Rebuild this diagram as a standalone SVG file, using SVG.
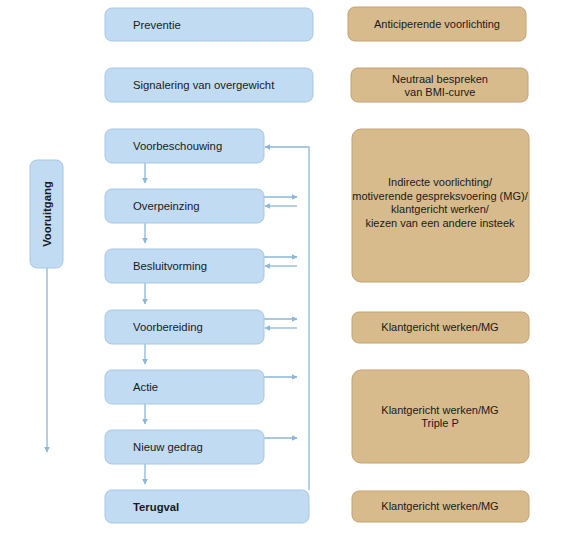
<svg xmlns="http://www.w3.org/2000/svg" width="570" height="543" viewBox="0 0 570 543">
<defs>
<style>
.b{fill:#c1dcf2;stroke:#a7c7e3;stroke-width:1}
.t{fill:#d8bb8d;stroke:#c4a272;stroke-width:1}
.lb{font-family:"Liberation Sans",Arial,sans-serif;font-size:11.3px;fill:#1a1a1a}
.lt{font-family:"Liberation Sans",Arial,sans-serif;font-size:11px;fill:#1a1a1a;text-anchor:middle}
.c{fill:none;stroke:#8db7d9;stroke-width:1.3}
</style>
<marker id="ah" viewBox="0 0 10 10" refX="9" refY="5" markerWidth="6" markerHeight="6" orient="auto" markerUnits="userSpaceOnUse">
<path d="M0,0 L10,5 L0,10 z" fill="#8db7d9"/>
</marker>
</defs>
<rect width="570" height="543" fill="#ffffff"/>
<g id="connectors">
<path class="c" d="M47,268 V452" marker-end="url(#ah)"/>
<path class="c" d="M145,163 V183" marker-end="url(#ah)"/>
<path class="c" d="M145,223 V243" marker-end="url(#ah)"/>
<path class="c" d="M145,283 V304" marker-end="url(#ah)"/>
<path class="c" d="M145,344 V364" marker-end="url(#ah)"/>
<path class="c" d="M145,404 V424" marker-end="url(#ah)"/>
<path class="c" d="M145,464 V484" marker-end="url(#ah)"/>
<path class="c" d="M309,490 V147 H265" marker-end="url(#ah)"/>
<path class="c" d="M264,197 H297" marker-end="url(#ah)"/>
<path class="c" d="M297,206 H265" marker-end="url(#ah)"/>
<path class="c" d="M264,257 H297" marker-end="url(#ah)"/>
<path class="c" d="M297,266 H265" marker-end="url(#ah)"/>
<path class="c" d="M264,319 H297" marker-end="url(#ah)"/>
<path class="c" d="M297,328 H265" marker-end="url(#ah)"/>
<path class="c" d="M264,377 H297" marker-end="url(#ah)"/>
<path class="c" d="M264,438 H297" marker-end="url(#ah)"/>
</g>
<g id="vooruitgang">
<rect class="b" x="30" y="160" width="33" height="108" rx="7"/>
<text class="lb" x="47" y="214" transform="rotate(-90 47 214)" text-anchor="middle" dy="4" font-weight="bold">Vooruitgang</text>
</g>
<g id="preventie"><rect class="b" x="105" y="8" width="208" height="33" rx="7"/><text class="lb" x="133" y="29">Preventie</text></g>
<g id="signalering"><rect class="b" x="105" y="68" width="208" height="34" rx="7"/><text class="lb" x="133" y="89">Signalering van overgewicht</text></g>
<g id="voorbeschouwing"><rect class="b" x="105" y="129" width="159" height="34" rx="7"/><text class="lb" x="133" y="150">Voorbeschouwing</text></g>
<g id="overpeinzing"><rect class="b" x="105" y="189" width="159" height="34" rx="7"/><text class="lb" x="133" y="210">Overpeinzing</text></g>
<g id="besluitvorming"><rect class="b" x="105" y="249" width="159" height="34" rx="7"/><text class="lb" x="133" y="270">Besluitvorming</text></g>
<g id="voorbereiding"><rect class="b" x="105" y="310" width="159" height="34" rx="7"/><text class="lb" x="133" y="331">Voorbereiding</text></g>
<g id="actie"><rect class="b" x="105" y="370" width="159" height="34" rx="7"/><text class="lb" x="133" y="391">Actie</text></g>
<g id="nieuwgedrag"><rect class="b" x="105" y="430" width="159" height="34" rx="7"/><text class="lb" x="133" y="451">Nieuw gedrag</text></g>
<g id="terugval"><rect class="b" x="105" y="490" width="204" height="33" rx="7"/><text class="lb" x="133" y="511" font-weight="bold">Terugval</text></g>
<g id="anticiperende"><rect class="t" x="348" y="7" width="178" height="34" rx="7"/><text class="lt" x="437" y="28">Anticiperende voorlichting</text></g>
<g id="neutraal"><rect class="t" x="351" y="68" width="177" height="34" rx="7"/><text class="lt" x="440" y="83">Neutraal bespreken</text><text class="lt" x="440" y="96">van BMI-curve</text></g>
<g id="indirecte"><rect class="t" x="352" y="129" width="177" height="153" rx="9"/>
<text class="lt" x="440" y="186">Indirecte voorlichting/</text>
<text class="lt" x="440" y="199.5">motiverende gespreksvoering (MG)/</text>
<text class="lt" x="440" y="213">klantgericht werken/</text>
<text class="lt" x="440" y="226.5">kiezen van een andere insteek</text></g>
<g id="klant1"><rect class="t" x="352" y="312" width="177" height="31" rx="7"/><text class="lt" x="440" y="331">Klantgericht werken/MG</text></g>
<g id="klant2"><rect class="t" x="352" y="370" width="177" height="93" rx="9"/><text class="lt" x="440" y="414">Klantgericht werken/MG</text><text class="lt" x="440" y="427">Triple P</text></g>
<g id="klant3"><rect class="t" x="352" y="491" width="177" height="31" rx="7"/><text class="lt" x="440" y="510">Klantgericht werken/MG</text></g>
</svg>
